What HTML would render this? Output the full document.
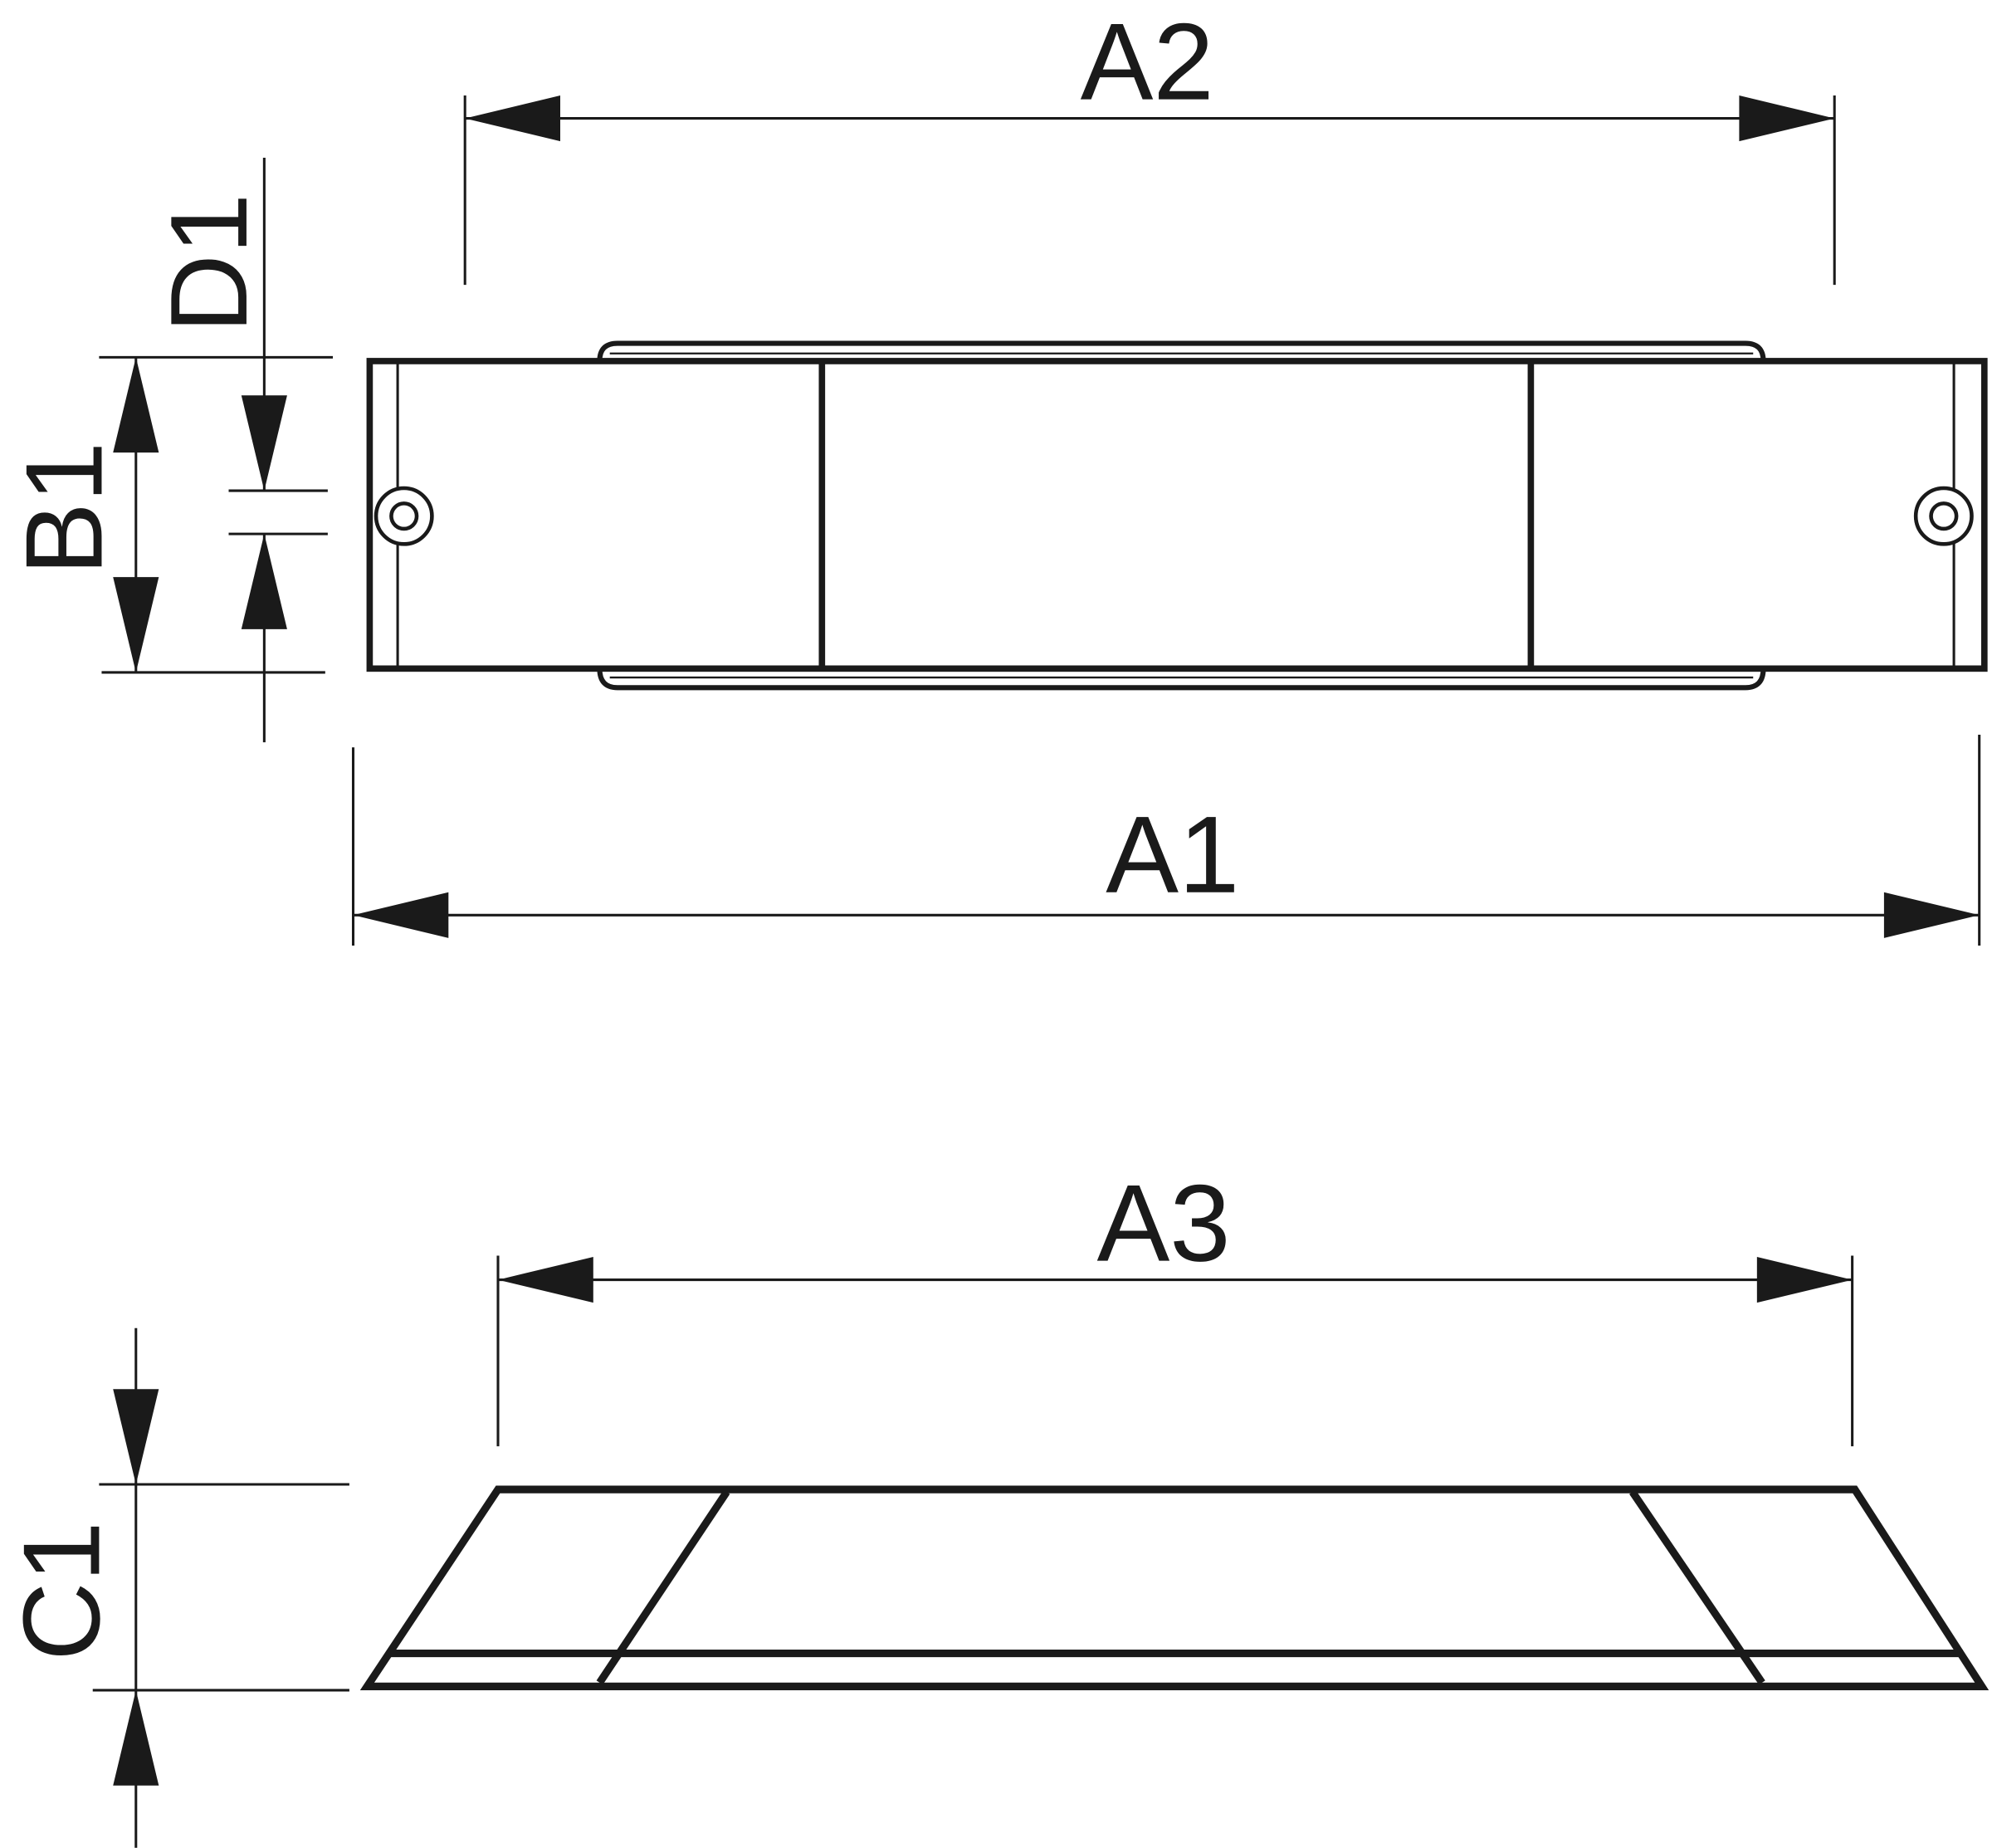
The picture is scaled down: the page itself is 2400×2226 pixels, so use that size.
<!DOCTYPE html>
<html><head><meta charset="utf-8"><style>
html,body{margin:0;padding:0;background:#fff;}
svg{display:block;}
text{font-family:"Liberation Sans",sans-serif;fill:#1a1a1a;}
</style></head><body>
<svg width="2400" height="2226" viewBox="0 0 1568 1454" xmlns="http://www.w3.org/2000/svg">
<g stroke="#1a1a1a" fill="none" stroke-width="2">
<line x1="366" y1="75" x2="366" y2="224"/>
<line x1="1444" y1="75" x2="1444" y2="224"/>
<line x1="366" y1="93" x2="1444" y2="93"/>
<line x1="278" y1="588" x2="278" y2="744"/>
<line x1="1558" y1="578" x2="1558" y2="744"/>
<line x1="278" y1="720" x2="1558" y2="720"/>
<line x1="392" y1="988" x2="392" y2="1138"/>
<line x1="1458" y1="988" x2="1458" y2="1138"/>
<line x1="392" y1="1007" x2="1458" y2="1007"/>
<line x1="78" y1="281" x2="262" y2="281"/>
<line x1="80" y1="529" x2="256" y2="529"/>
<line x1="107" y1="281" x2="107" y2="529"/>
<line x1="208" y1="124" x2="208" y2="386"/>
<line x1="208" y1="420" x2="208" y2="584"/>
<line x1="180" y1="386" x2="258" y2="386"/>
<line x1="180" y1="420" x2="258" y2="420"/>
<line x1="78" y1="1168" x2="275" y2="1168"/>
<line x1="73" y1="1330" x2="275" y2="1330"/>
<line x1="107" y1="1045" x2="107" y2="1454"/>
</g>
<g fill="#1a1a1a">
<polygon points="366,93 441,75 441,111"/>
<polygon points="1444,93 1369,75 1369,111"/>
<polygon points="278,720 353,702 353,738"/>
<polygon points="1558,720 1483,702 1483,738"/>
<polygon points="392,1007 467,989 467,1025"/>
<polygon points="1458,1007 1383,989 1383,1025"/>
<polygon points="107,281 89,356 125,356"/>
<polygon points="107,529 89,454 125,454"/>
<polygon points="208,386 190,311 226,311"/>
<polygon points="208,420 190,495 226,495"/>
<polygon points="107,1168 89,1093 125,1093"/>
<polygon points="107,1330 89,1405 125,1405"/>
</g>
<g stroke="#1a1a1a" fill="none">
<path d="M472,284 Q472,270 486,270 L1374,270 Q1388,270 1388,284" stroke-width="4"/>
<line x1="480" y1="278" x2="1380" y2="278" stroke-width="1.5"/>
<path d="M472,526 Q472,541 486,541 L1374,541 Q1388,541 1388,526" stroke-width="4"/>
<line x1="480" y1="533" x2="1380" y2="533" stroke-width="1.5"/>
<rect x="291" y="284" width="1271" height="242" stroke-width="5" fill="#fff"/>
<line x1="313" y1="286" x2="313" y2="524" stroke-width="2"/>
<line x1="1538" y1="286" x2="1538" y2="524" stroke-width="2"/>
<line x1="647" y1="286" x2="647" y2="524" stroke-width="5"/>
<line x1="1205" y1="286" x2="1205" y2="524" stroke-width="5"/>
<circle cx="318" cy="406" r="22" stroke-width="3" fill="#fff"/>
<circle cx="318" cy="406" r="10" stroke-width="3"/>
<circle cx="1530" cy="406" r="22" stroke-width="3" fill="#fff"/>
<circle cx="1530" cy="406" r="10" stroke-width="3"/>
</g>
<g stroke="#1a1a1a" fill="none" stroke-width="6" stroke-linejoin="miter">
<polygon points="392,1172 1460,1172 1560,1327 289,1327"/>
<line x1="305" y1="1301" x2="1545" y2="1301"/>
<line x1="572" y1="1174" x2="472" y2="1324"/>
<line x1="1285" y1="1174" x2="1387" y2="1324"/>
</g>
<text x="903" y="78" font-size="86" text-anchor="middle">A2</text>
<text x="923" y="702" font-size="86" text-anchor="middle">A1</text>
<text x="916" y="992" font-size="86" text-anchor="middle">A3</text>
<text transform="translate(80,400) rotate(-90)" font-size="86" text-anchor="middle">B1</text>
<text transform="translate(194,207) rotate(-90)" font-size="86" text-anchor="middle">D1</text>
<text transform="translate(78,1252) rotate(-90)" font-size="86" text-anchor="middle">C1</text>
</svg>
</body></html>
